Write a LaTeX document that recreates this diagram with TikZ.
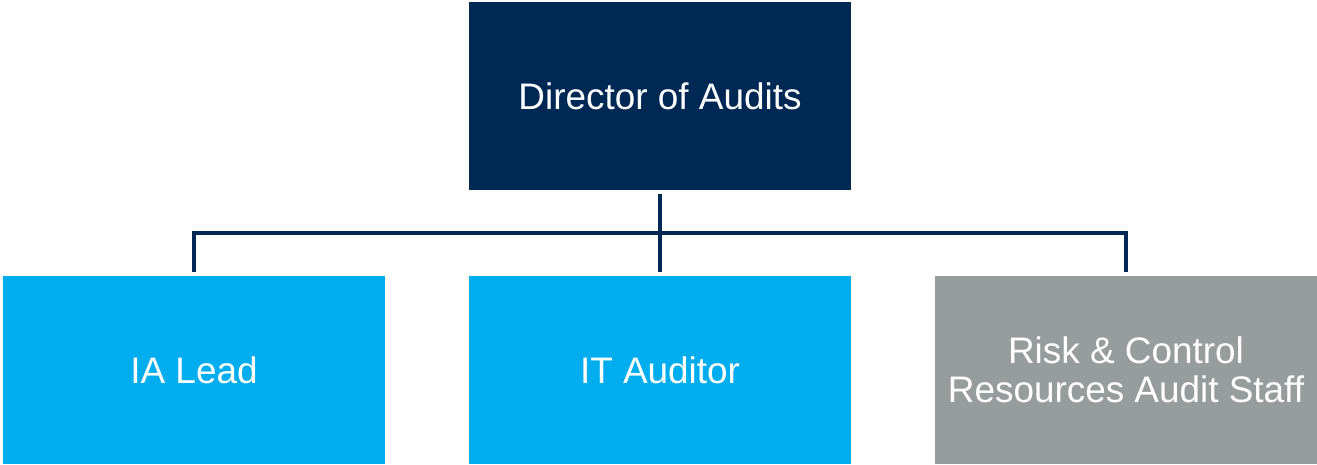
\documentclass[tikz,border=0pt]{standalone}
\usepackage{fontspec}
\setmainfont{Liberation Sans}
\usetikzlibrary{positioning,calc}
\definecolor{navy}{RGB}{0,40,85}
\definecolor{skyblue}{RGB}{0,174,239}
\definecolor{stonegray}{RGB}{151,157,156}
\tikzset{
  orgbox/.style={rectangle, minimum width=3.82cm, minimum height=1.88cm, inner sep=0pt, outer sep=0pt, text=white, align=center},
  topbox/.style={orgbox, fill=navy},
  staffbox/.style={orgbox, fill=skyblue},
  graybox/.style={orgbox, fill=stonegray},
  linkline/.style={draw=navy, line width=0.9pt}
}
\begin{document}
\begin{tikzpicture}[font=\fontsize{10.5}{11.2}\selectfont, line join=miter]
	\node[topbox] (director) {Director of Audits};
	\node[staffbox, below=0.86cm of director] (itaud) {IT Auditor};
	\node[staffbox, left=0.84cm of itaud] (ialead) {IA Lead};
	\node[graybox, right=0.84cm of itaud] (riskstaff) {Risk \& Control\\Resources Audit Staff};
	\coordinate (bus) at ($(director.south)+(0,-0.43)$);
	\useasboundingbox ($(director.north west)+(-4.69,0.02)$) rectangle ++(13.17,-4.64);
	\draw[linkline] ([yshift=-0.4mm]director.south) -- ([yshift=0.4mm]itaud.north);
	\draw[linkline] ([yshift=0.4mm]ialead.north) |- (bus) -| ([yshift=0.4mm]riskstaff.north);
\end{tikzpicture}
\end{document}
